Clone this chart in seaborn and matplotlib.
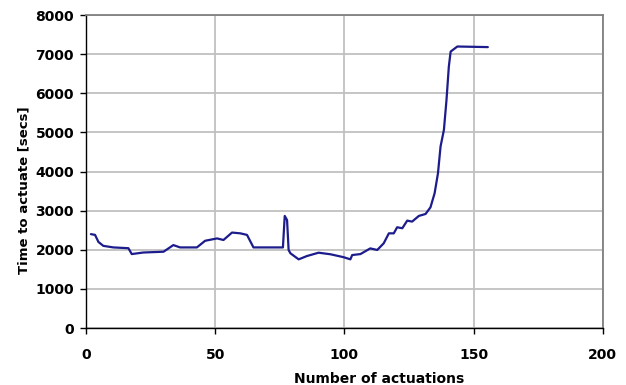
import matplotlib
matplotlib.use("Agg")
import matplotlib.pyplot as plt
import seaborn as sns
import pandas as pd

actuations = [1.9, 3.5, 4.8, 6.7, 10.6, 16.4, 17.7, 22.2, 30, 33.8, 36.4, 42.9, 46.1, 50.7,
              53.2, 56.5, 59.7, 62.3, 64.8, 76.2, 76.9, 77.8, 78.4, 79.1, 82.3, 85.5, 90,
              94.6, 99.7, 102.3, 103, 106.2, 110, 112.7, 115.2, 117.2, 119.1, 120.4, 122.4,
              124.3, 126.2, 128.8, 131.4, 133.3, 134.9, 136.2, 137.2, 138.5, 139.5, 140.4,
              141.1, 143.7, 155.5]
time_secs = [2400, 2380, 2200, 2100, 2060, 2040, 1890, 1930, 1950, 2120, 2060, 2060, 2230,
             2290, 2250, 2440, 2420, 2380, 2060, 2060, 2865, 2760, 1995, 1910, 1755, 1840,
             1925, 1885, 1810, 1755, 1865, 1890, 2035, 1995, 2165, 2420, 2420, 2575, 2550,
             2745, 2720, 2865, 2915, 3085, 3445, 3955, 4640, 5065, 5830, 6680, 7065, 7195,
             7180]
x_ticks = [0, 50, 100, 150, 200]
y_ticks = [0, 1000, 2000, 3000, 4000, 5000, 6000, 7000, 8000]

sns.set_style("white")
plt.rcParams['font.family'] = ['DejaVu Sans']
plt.rcParams['font.weight'] = 'bold'
plt.rcParams['text.color'] = 'black'
plt.rcParams['axes.labelcolor'] = 'black'
plt.rcParams['xtick.color'] = 'black'
plt.rcParams['ytick.color'] = 'black'

df = pd.DataFrame({"x": actuations, "y": time_secs})
fig = plt.figure(figsize=(6.26, 3.85), dpi=100)
ax = fig.add_axes([0.1374, 0.148, 0.8256, 0.813])
sns.lineplot(data=df, x="x", y="y", ax=ax, color="#1c1c8c", linewidth=1.6,
             estimator=None, sort=False)
ax.set_xlim(0, 200)
ax.set_ylim(0, 8000)
ax.set_xticks(x_ticks)
ax.set_yticks(y_ticks)
ax.grid(True, color="#c0c0c0", linewidth=1.3)
ax.set_axisbelow(True)
for s in ["left", "bottom"]:
    ax.spines[s].set_color("black")
    ax.spines[s].set_linewidth(1.0)
for s in ["top", "right"]:
    ax.spines[s].set_color("#808080")
    ax.spines[s].set_linewidth(1.3)
ax.tick_params(axis="both", direction="out", length=4.3, width=1, color="black",
               labelcolor="black", labelsize=10, bottom=True, left=True)
ax.tick_params(axis="x", pad=10)
ax.tick_params(axis="y", pad=4.3)
for lab in ax.get_xticklabels() + ax.get_yticklabels():
    lab.set_fontweight("bold")
ax.set_xlabel("Number of actuations", fontsize=10, fontweight="bold", color="black")
ax.set_ylabel("Time to actuate [secs]", fontsize=9.5, fontweight="bold", color="black")
ax.xaxis.set_label_coords(0.567, -0.1406)
ax.yaxis.set_label_coords(-0.108, 0.441)
fig.savefig("out.png", dpi=100)
